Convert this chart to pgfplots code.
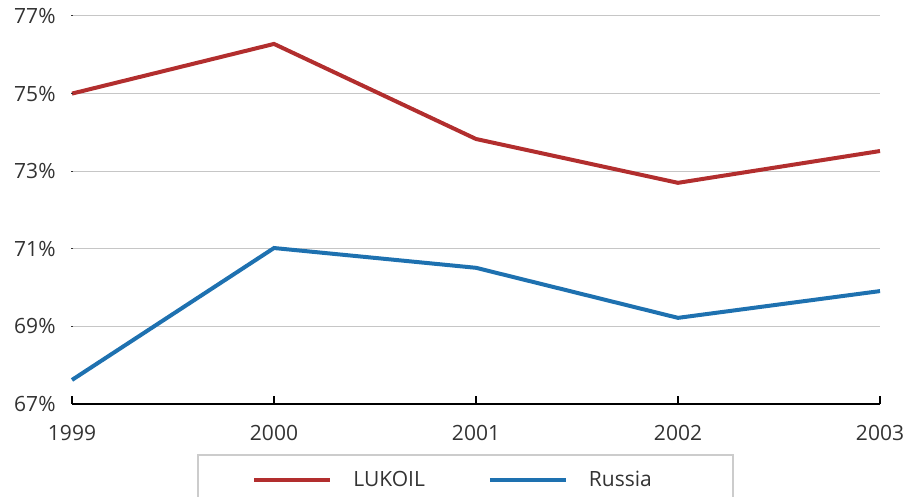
\documentclass[border=0pt]{standalone}
\usepackage{fontspec}
\setmainfont{Open Sans}
\usepackage{pgfplots}
\pgfplotsset{compat=1.18}
\definecolor{lukred}{RGB}{178,46,46}
\definecolor{rusblue}{RGB}{30,113,176}
\definecolor{txt}{RGB}{51,51,51}
\begin{document}
\begin{tikzpicture}
\begin{axis}[
  at={(0,0)}, anchor=south west,
  scale only axis, width=404pt, height=194pt,
  xmin=1999, xmax=2003, ymin=67, ymax=77,
  xtick={1999,2000,2001,2002,2003},
  xticklabels={1999,2000,2001,2002,2003},
  ytick={67,69,71,73,75,77},
  yticklabel={\pgfmathprintnumber{\tick}\%},
  /pgf/number format/assume math mode=true,
  axis x line*=bottom, axis y line*=left,
  x axis line style={line width=1pt,-},
  y axis line style={draw=none},
  ymajorgrids, grid style={line width=0.5pt, color=gray!45},
  xtick style={line width=0.6pt, black},
  ytick style={draw=none},
  x tick label style={yshift=-7pt},
  y tick label style={xshift=-4.7pt},
  tick align=inside,
  major tick length=4pt,
  tick label style={font=\fontsize{10.5}{12}\selectfont, text=txt},
  clip=false,
  legend columns=2,
  legend style={draw=none, fill=none, at={(87pt,-38pt)}, anchor=west,
     font=\fontsize{10.5}{12}\selectfont, text=txt,
     /tikz/every even column/.append style={column sep=29.5pt}},
  legend image code/.code={\draw[#1, line width=2pt] (0pt,0pt) -- (38pt,0pt);},
]
\addplot[lukred, line width=2pt] coordinates {(1999,75.00) (2000,76.28) (2001,73.83) (2002,72.70) (2003,73.52)};
\addlegendentry{\hspace{8.5pt}LUKOIL}
\addplot[rusblue, line width=2pt] coordinates {(1999,67.62) (2000,71.02) (2001,70.51) (2002,69.22) (2003,69.91)};
\addlegendentry{\hspace{8.5pt}Russia}
\end{axis}
\foreach \yy in {38.8,77.6,116.4,155.2,194} {\draw[black!80, line width=0.5pt] (-0.3pt,\yy pt) -- (0.5pt,\yy pt);}
\draw[gray!40, line width=0.6pt] (63pt,-60pt) -- (63pt,-25.5pt) -- (330.5pt,-25.5pt) -- (330.5pt,-60pt);
\pgfresetboundingbox
\path[use as bounding box] (-36pt,-46.5pt) rectangle (416pt,202pt);
\end{tikzpicture}
\end{document}
